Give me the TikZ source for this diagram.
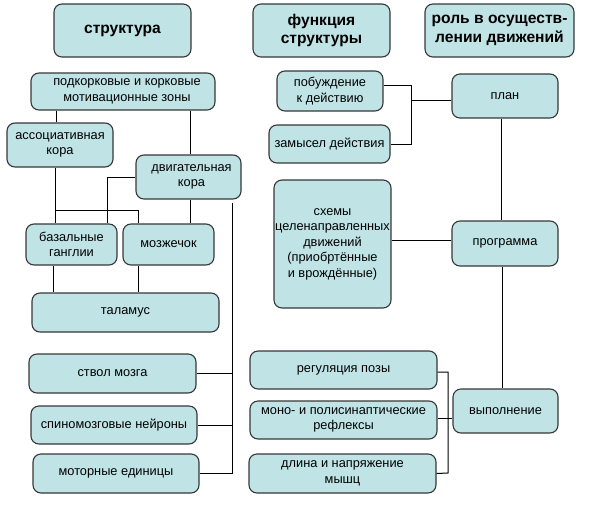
\documentclass[tikz,border=0pt]{standalone}
\usepackage{fontspec}
\setmainfont{Liberation Sans}
\definecolor{boxfill}{RGB}{192,228,230}
\definecolor{boxline}{RGB}{55,55,55}
\tikzset{
  box/.style={draw=boxline, line width=1.1pt, fill=boxfill, rounded corners=8pt,
    inner sep=0pt, align=center, font=\fontsize{12.8}{15.5}\selectfont},
  head/.style={box, font=\bfseries\fontsize{15.6}{18.5}\selectfont},
  conn/.style={draw=black, line width=1pt}
}
\begin{document}
\begin{tikzpicture}[x=1pt,y=-1pt]
\useasboundingbox (0,0) rectangle (596,506);
% headers
\node[head, minimum width=137pt, minimum height=53pt] (s) at (122.5,30.5) {структура};
\node[head, minimum width=137pt, minimum height=53pt] (f) at (321.5,30.5) {функция\\структуры};
\node[head, minimum width=149pt, minimum height=53pt] (r) at (499.5,30.5) {роль в осуществ-\\лении движений};
% structure column
\node[box, minimum width=184pt, minimum height=37pt] (pk) at (123,91.5) {\hspace*{8pt}подкорковые и корковые\\\hspace*{8pt}мотивационные зоны};
\node[box, minimum width=106pt, minimum height=44pt] (ass) at (60,145) {ассоциативная\\кора};
\node[box, minimum width=105pt, minimum height=44pt] (dv) at (188.5,177) {\hspace*{6pt}двигательная\\\hspace*{6pt}кора};
\node[box, minimum width=91pt, minimum height=41pt] (bg) at (71.5,244.5) {базальные\\ганглии};
\node[box, minimum width=91pt, minimum height=41pt] (mz) at (168.5,244.5) {мозжечок};
\node[box, minimum width=187pt, minimum height=39pt] (tal) at (125.5,312.5) {таламус};
\node[box, minimum width=167pt, minimum height=39pt] (stv) at (112.5,373.5) {ствол мозга};
\node[box, minimum width=166pt, minimum height=38pt] (sp) at (114,425) {спиномозговые нейроны};
\node[box, minimum width=166pt, minimum height=39pt] (mot) at (116,473.5) {моторные единицы};
% function column
\node[box, minimum width=106pt, minimum height=40pt] (pob) at (330,91) {побуждение\\к действию};
\node[box, minimum width=121pt, minimum height=38pt] (zam) at (329.5,144) {замысел действия};
\node[box, minimum width=117pt, minimum height=128pt] (sch) at (332.5,244) {схемы\\целенаправленных\\движений\\(приобртённые\\и врождённые)};
\node[box, minimum width=187pt, minimum height=38pt] (reg) at (343.5,370) {регуляция позы};
\node[box, minimum width=187pt, minimum height=38pt] (mono) at (343.5,420) {моно- и полисинаптические\\рефлексы};
\node[box, minimum width=187pt, minimum height=39pt] (dl) at (342.5,473.5) {длина и напряжение\\мышц};
% role column
\node[box, minimum width=106pt, minimum height=44pt] (plan) at (505,96) {план};
\node[box, minimum width=106pt, minimum height=45pt] (prog) at (505,243.5) {программа};
\node[box, minimum width=105pt, minimum height=44pt] (vyp) at (505.5,411) {выполнение};
% connectors: structure
\draw[conn] ([xshift=-4pt]ass.north) -- ([xshift=-4pt]ass.north |- pk.south);
\draw[conn] ([xshift=1.5pt]dv.north) -- ([xshift=1.5pt]dv.north |- pk.south);
\draw[conn] ([xshift=-5pt]ass.south) -- ([xshift=-16.5pt]bg.north);
\coordinate (j1) at (55,210);
\draw[conn] (j1) -| ([xshift=-30.5pt]mz.north);
\draw[conn] (dv.west) -| ([xshift=35.5pt]bg.north);
\draw[conn] ([xshift=21.5pt]mz.north) -- ([xshift=21.5pt]mz.north |- dv.south);
\draw[conn] ([xshift=-18.5pt]bg.south) -- ([xshift=-18.5pt]bg.south |- tal.north);
\draw[conn] ([xshift=-30.5pt]mz.south) -- ([xshift=-30.5pt]mz.south |- tal.north);
\draw[conn] ([xshift=43.5pt,yshift=-3pt]dv.south) -- ([xshift=43.5pt]dv.south |- mot.east) -- (mot.east);
\draw[conn] (stv.east) -- (stv.east -| 232,0);
\draw[conn] (sp.east) -- (sp.east -| 232,0);
% connectors: function / role
\draw[conn] ([yshift=6pt]pob.east) -| (411,144) -- (zam.east);
\draw[conn] ([yshift=-4pt]plan.west) -- ([yshift=-4pt]plan.west -| 411,0);
\draw[conn] ([xshift=-3.5pt]plan.south) -- ([xshift=-3.5pt]prog.north);
\draw[conn] ([yshift=4pt]sch.east) -- ([yshift=4pt]sch.east -| prog.west);
\draw[conn] ([xshift=-3pt]prog.south) -- ([xshift=-3.5pt]vyp.north);
\draw[conn] ([yshift=-2pt]reg.east) -| (448,473) -- (dl.east);
\draw[conn] ([yshift=2pt]mono.east) -- ([yshift=2pt]mono.east -| vyp.west);
\end{tikzpicture}
\end{document}
